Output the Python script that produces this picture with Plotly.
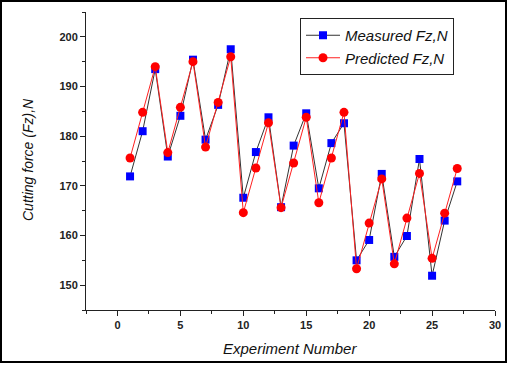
import plotly.graph_objects as go

experiment = list(range(1, 28))
measured = [171.9, 181.0, 193.5, 175.9, 184.1, 195.4, 179.3, 186.3, 197.5,
            167.6, 176.8, 183.8, 165.7, 178.1, 184.6, 169.5, 178.6, 182.6,
            155.0, 159.1, 172.4, 155.7, 159.9, 175.4, 151.9, 163.0, 170.9]
predicted = [175.6, 184.8, 194.0, 176.7, 185.8, 195.0, 177.8, 186.8, 196.0,
             164.6, 173.6, 182.7, 165.6, 174.6, 183.8, 166.6, 175.6, 184.8,
             153.3, 162.5, 171.4, 154.3, 163.5, 172.5, 155.4, 164.5, 173.5]
x_ticks = [0, 5, 10, 15, 20, 25, 30]
y_ticks = [150, 160, 170, 180, 190, 200]

W, H = 509, 365
L, R, T, B = 86, 14, 12, 55
pw, ph = W - L - R, H - T - B


def px_x(p):
    return (p - L) / pw


def px_y(p):
    return (H - B - p) / ph


fig = go.Figure()
fig.add_trace(go.Scatter(
    x=experiment, y=measured, name="Measured Fz,N", mode="lines+markers",
    line=dict(color="#333333", width=1),
    marker=dict(symbol="square", size=8, color="#0000ff"),
))
fig.add_trace(go.Scatter(
    x=experiment, y=predicted, name="Predicted Fz,N", mode="lines+markers",
    line=dict(color="#ff2020", width=1),
    marker=dict(symbol="circle", size=9, color="#ff0000"),
))

tickfont = dict(family="Liberation Sans, Arial", size=11, color="#222222", weight="bold")

fig.update_layout(
    width=W, height=H,
    margin=dict(l=L, r=R, t=T, b=B, autoexpand=False),
    paper_bgcolor="white", plot_bgcolor="white",
    showlegend=True,
    legend=dict(
        x=px_x(300), y=px_y(18), xanchor="left", yanchor="top",
        bordercolor="#222222", borderwidth=1, bgcolor="rgba(255,255,255,0)",
        font=dict(family="Liberation Sans, Arial", size=15, color="#111111", style="italic"),
        tracegroupgap=0, itemwidth=34,
    ),
    xaxis=dict(
        range=[-2.5, 30], tickvals=x_ticks, showgrid=False, zeroline=False,
        showline=True, linecolor="#222222", linewidth=1,
        ticks="outside", ticklen=5, tickcolor="#222222",
        minor=dict(ticks="outside", ticklen=3, dtick=2.5, tick0=0, tickcolor="#222222", showgrid=False),
        tickfont=tickfont, automargin=False,
    ),
    yaxis=dict(
        range=[145, 205], tickvals=y_ticks, showgrid=False, zeroline=False,
        showline=True, linecolor="#222222", linewidth=1,
        ticks="outside", ticklen=5, tickcolor="#222222",
        minor=dict(ticks="outside", ticklen=3, dtick=5, tick0=145, tickcolor="#222222", showgrid=False),
        tickfont=tickfont, automargin=False,
    ),
)

fig.add_annotation(
    text="Experiment Number", xref="paper", yref="paper",
    x=px_x(290), y=px_y(348), xanchor="center", yanchor="middle", showarrow=False,
    font=dict(family="Liberation Sans, Arial", size=15, color="#111111", style="italic"),
)
fig.add_annotation(
    text="Cutting force (Fz),N", xref="paper", yref="paper",
    x=px_x(28), y=px_y(160), xanchor="center", yanchor="middle", showarrow=False,
    textangle=-90,
    font=dict(family="Liberation Sans, Arial", size=14, color="#111111", style="italic"),
)

# outer frame around the whole picture
fig.add_shape(
    type="rect", xref="paper", yref="paper",
    x0=px_x(1), x1=px_x(506), y0=px_y(362), y1=px_y(1),
    line=dict(color="black", width=2), layer="above",
)

fig.write_html("out.html", config={"displayModeBar": False},
               post_script="document.body.style.margin='0';")
